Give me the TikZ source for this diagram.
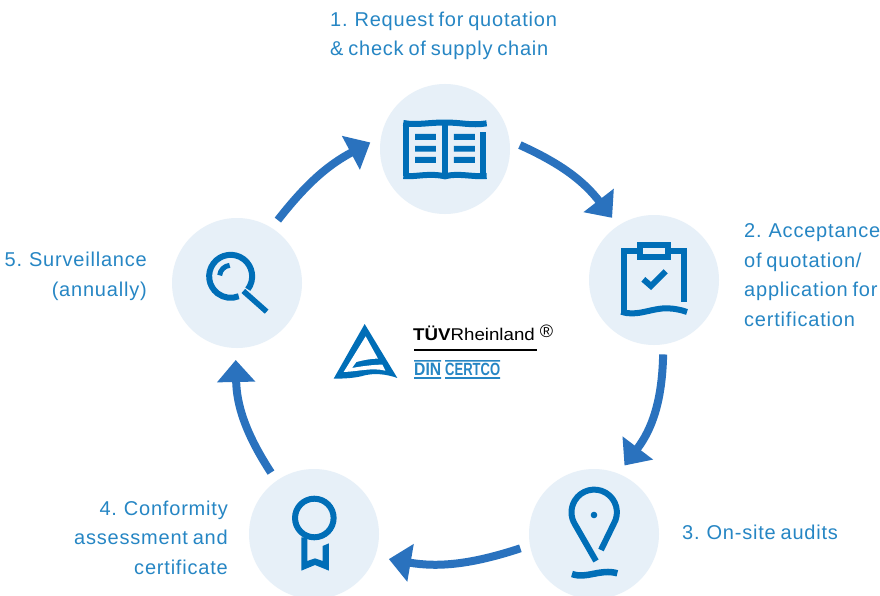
\documentclass[tikz,border=0pt]{standalone}
\usepackage{fontspec}
\usepackage{graphicx}
\usetikzlibrary{arrows.meta}
\setmainfont{Liberation Sans}
\newfontfamily\lblfont[LetterSpace=4,WordSpace=0.75]{Liberation Sans}
\definecolor{bgc}{RGB}{231,240,248}
\definecolor{arrowc}{RGB}{42,114,190}
\definecolor{iconc}{RGB}{0,110,183}
\definecolor{textc}{RGB}{38,134,196}
\tikzset{
  stage/.style={circle,fill=bgc,minimum size=130pt,inner sep=0pt,outer sep=10pt},
  flow/.style={arrowc,line width=8pt,-{Triangle[width=37pt,length=22pt]}},
  icon/.style={iconc,line width=6pt},
  lbl/.style={textc,inner sep=0pt,font=\lblfont\fontsize{20}{29.4}\selectfont},
}
\begin{document}
\begin{tikzpicture}[x=1pt,y=-1pt]
\useasboundingbox (0,0) rectangle (880,596);
\fill[white] (0,0) rectangle (880,596);
\node[stage] (c1) at (445,149) {};
\node[stage] (c2) at (654,280) {};
\node[stage] (c3) at (594,534) {};
\node[stage] (c4) at (314,534) {};
\node[stage] (c5) at (237,283) {};
\draw[flow] (c1.3) to[bend left=14] (c2.124);
\draw[flow] (c2.-83) to[bend left=18] (c3.66);
\draw[flow,shorten >=4pt] (c3.191) to[bend left=14] (c4.-19);
\draw[flow,shorten >=2pt] (c4.125) to[bend left=16] (c5.-91);
\draw[flow] (c5.57) to[bend left=12] (c1.175);
% labels
\node[lbl,anchor=base west,align=left] (t1) at (330,55.5) {1. Request for quotation\\\& check of supply chain};
\node[lbl,anchor=base west,align=left] (t2) at (744,326) {2. Acceptance\\of quotation/\\application for\\certification};
\node[lbl,anchor=base west,align=left] (t3) at (682,539) {3. On-site audits};
\node[lbl,anchor=base east,align=right] (t4) at (228,574) {4. Conformity\\assessment and\\certificate};
\node[lbl,anchor=base east,align=right] (t5) at (147,296) {5. Surveillance\\(annually)};
% book
\begin{scope}[shift={(370,80)},x=.3333pt,y=-.3333pt]
\draw[icon] (100,129) .. controls (140,137) and (185,126) .. (225,128) .. controls (265,126) and (305,138) .. (350,130);
\draw[icon] (100,288) .. controls (135,292) and (175,278) .. (225,289) .. controls (265,278) and (310,292) .. (350,288);
\draw[icon] (109,129) -- (109,288);
\draw[icon] (225,128) -- (225,289);
\draw[icon] (340,157) -- (340,288);
\fill[iconc] (135,162) rectangle (198,180) (135,198) rectangle (198,215) (135,231) rectangle (198,249);
\fill[iconc] (252,162) rectangle (315,180) (252,198) rectangle (315,215) (252,231) rectangle (315,249);
\end{scope}
% clipboard
\begin{scope}[shift={(580,210)},x=.3333pt,y=-.3333pt]
\draw[icon] (181,122) -- (133,122) -- (133,308);
\draw[icon] (265,122) -- (312,122) -- (312,277);
\draw[icon] (124,305) .. controls (170,322) and (215,293) .. (265,295) .. controls (285,296) and (305,300) .. (321,306);
\draw[icon] (181,105) rectangle (265,140);
\draw[icon] (190,208) -- (213,228) -- (257,184);
\end{scope}
% pin
\begin{scope}[shift={(520,460)},x=.3333pt,y=-.3333pt]
\draw[icon] (243,270) -- (281,192) arc[start angle=-31,end angle=211,radius=22.7pt] -- (228,303);
\fill[iconc] (222,165) circle[radius=3.3pt];
\draw[icon,line width=6.5pt] (156,342) .. controls (200,358) and (240,325) .. (292,340);
\end{scope}
% medal
\begin{scope}[shift={(240,460)},x=.3333pt,y=-.3333pt]
\draw[icon] (223,174) circle[radius=19.3pt];
\fill[iconc] (184,232) -- (184,332) -- (225,315) -- (267,332) -- (267,250) -- (248,258) -- (248,303) -- (225,295) -- (202,303) -- (202,232) -- cycle;
\end{scope}
% magnifier
\begin{scope}[shift={(165,210)},x=.3333pt,y=-.3333pt]
\draw[icon] (248.5,237.8) arc[start angle=-37,end angle=292,radius=21.5pt];
\draw[icon,line width=5pt] (164.1,196.1) arc[start angle=175,end angle=95,radius=11pt];
\draw[icon,line width=5.5pt] (235,243) -- (305,305);
\end{scope}
% logo mark
\begin{scope}[shift={(328,318)},x=.3333pt,y=-.3333pt]
\fill[iconc] (110,18) -- (208,180) .. controls (175,168) and (140,165) .. (110,172) .. controls (85,180) and (50,182) .. (17,182) -- cycle;
\fill[white] (113,55) -- (150,122) .. controls (125,122) and (105,127) .. (85,132) -- (72,150) .. controls (100,145) and (135,140) .. (163,140) -- (172,158) .. controls (130,148) and (95,160) .. (47,162) -- cycle;
\end{scope}
% logo text
\node[anchor=base west,inner sep=0pt,black] (tuv) at (413,340) {\scalebox{1.1}[1]{\fontsize{17}{17}\selectfont\textbf{TÜV}Rheinland}};
\node[anchor=center,inner sep=0pt,black] (reg) at (546.5,331) {\fontsize{18}{18}\selectfont ®};
\draw[black,line width=1.7pt] (414,350) -- (537,350);
\node[anchor=south west,inner sep=0pt,textc] (din) at (414,375.5) {\resizebox{27pt}{12.3pt}{\bfseries DIN}};
\node[anchor=south west,inner sep=0pt,textc] (cert) at (445,375.5) {\resizebox{55pt}{12.3pt}{\bfseries CERTCO}};
\fill[textc] (414,360) rectangle (441,361.6) (414,377.2) rectangle (441,378.8);
\fill[textc] (445,360) rectangle (500,361.6) (445,377.2) rectangle (500,378.8);
\end{tikzpicture}
\end{document}
